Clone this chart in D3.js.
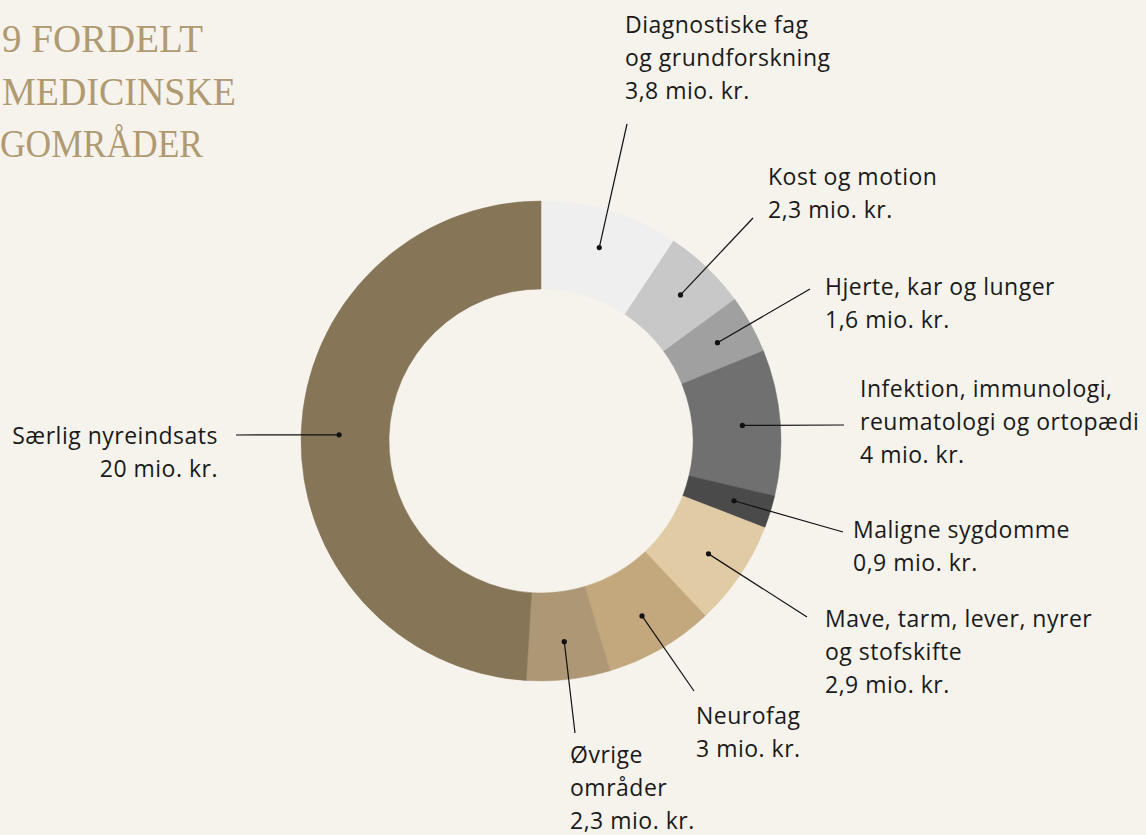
<!DOCTYPE html>
<html lang="da">
<head>
  <meta charset="UTF-8">
  <title>Fordeling på medicinske områder</title>
  <style>
    html, body {
      margin: 0;
      padding: 0;
      background: #f6f3ec;
      overflow: hidden;
    }
    .title {
      font-family: "Liberation Serif", "DejaVu Serif", serif;
      font-size: 41px;
      fill: #b09a72;
    }
    .label {
      font-family: "Open Sans", Lato, sans-serif;
      font-size: 23px;
      fill: #1a1a1a;
      letter-spacing: 0.5px;
    }
    .leader {
      stroke: #111;
      stroke-width: 1.2;
      fill: none;
    }
  </style>
</head>
<body>
  <script src="https://d3js.org/d3.v7.min.js"></script>
  <script>
    // data, clockwise from 12 o'clock
    const categories = [
      'Diagnostiske fag og grundforskning',
      'Kost og motion',
      'Hjerte, kar og lunger',
      'Infektion, immunologi, reumatologi og ortopædi',
      'Maligne sygdomme',
      'Mave, tarm, lever, nyrer og stofskifte',
      'Neurofag',
      'Øvrige områder',
      'Særlig nyreindsats'
    ];
    const values = [3.8, 2.3, 1.6, 4, 0.9, 2.9, 3, 2.3, 20];
    const valueLabels = ['3,8 mio. kr.', '2,3 mio. kr.', '1,6 mio. kr.', '4 mio. kr.', '0,9 mio. kr.',
                         '2,9 mio. kr.', '3 mio. kr.', '2,3 mio. kr.', '20 mio. kr.'];
    // how the label text wraps
    const labelLines = [
      ['Diagnostiske fag', 'og grundforskning'],
      ['Kost og motion'],
      ['Hjerte, kar og lunger'],
      ['Infektion, immunologi,', 'reumatologi og ortopædi'],
      ['Maligne sygdomme'],
      ['Mave, tarm, lever, nyrer', 'og stofskifte'],
      ['Neurofag'],
      ['Øvrige', 'områder'],
      ['Særlig nyreindsats']
    ];
    const colors = ['#efefef', '#c8c8c8', '#a0a0a0', '#707070', '#4a4a4a',
                    '#e0cba4', '#c3a77d', '#ae9774', '#877558'];
    const titleLines = ['9 FORDELT', 'MEDICINSKE', 'GOMRÅDER'];

    // label layout: end of leader line (lx,ly), text start (tx,ty first baseline), anchor
    const labelLayout = [
      {lx: 627, ly: 124, tx: 625, ty: 33, anchor: 'start'},
      {lx: 753, ly: 218, tx: 768, ty: 185, anchor: 'start'},
      {lx: 810, ly: 289, tx: 825, ty: 295, anchor: 'start'},
      {lx: 844, ly: 425, tx: 860, ty: 397, anchor: 'start'},
      {lx: 843, ly: 532, tx: 853, ty: 538, anchor: 'start'},
      {lx: 807, ly: 617, tx: 825, ty: 627, anchor: 'start'},
      {lx: 694, ly: 691, tx: 696, ty: 724, anchor: 'start'},
      {lx: 575, ly: 733, tx: 570, ty: 763, anchor: 'start'},
      {lx: 236, ly: 435, tx: 218, ty: 444, anchor: 'end'}
    ];

    const WIDTH = 1146;
    const HEIGHT = 835;
    const cx = 541, cy = 441;
    const outerR = 240, innerR = 152, dotR = 202;
    const lineH = 33;

    const svg = d3.select('body').append('svg')
      .attr('width', WIDTH)
      .attr('height', HEIGHT)
      .attr('viewBox', `0 0 ${WIDTH} ${HEIGHT}`);

    // title, squeezed to the widths of the original typeface
    const titleX = [2, 2, 0];
    const titleW = [201, 234, 203];
    svg.append('g').selectAll('text')
      .data(titleLines)
      .join('text')
        .attr('class', 'title')
        .attr('x', (d, i) => titleX[i])
        .attr('y', (d, i) => 52 + i * 52.5)
        .attr('textLength', (d, i) => titleW[i])
        .attr('lengthAdjust', 'spacingAndGlyphs')
        .text(d => d);

    const data = categories.map((c, i) => ({name: c, value: values[i], i}));

    const pie = d3.pie().sort(null).value(d => d.value);
    const arc = d3.arc().innerRadius(innerR).outerRadius(outerR);
    const dotArc = d3.arc().innerRadius(dotR).outerRadius(dotR);

    const chart = svg.append('g').attr('transform', `translate(${cx},${cy})`);
    const arcs = pie(data);

    chart.selectAll('path')
      .data(arcs)
      .join('path')
        .attr('d', arc)
        .attr('fill', d => colors[d.data.i])
        .attr('stroke', d => colors[d.data.i])
        .attr('stroke-width', 0.5);

    // leader lines + dots
    const leaders = svg.append('g');
    arcs.forEach(d => {
      const [px, py] = dotArc.centroid(d);
      const L = labelLayout[d.data.i];
      leaders.append('line')
        .attr('class', 'leader')
        .attr('x1', cx + px).attr('y1', cy + py)
        .attr('x2', L.lx).attr('y2', L.ly);
      leaders.append('circle')
        .attr('cx', cx + px).attr('cy', cy + py)
        .attr('r', 2.6)
        .attr('fill', '#111');
    });

    // labels
    const labels = svg.append('g');
    data.forEach(d => {
      const L = labelLayout[d.i];
      const t = labels.append('text')
        .attr('class', 'label')
        .attr('text-anchor', L.anchor);
      const lines = labelLines[d.i].concat([valueLabels[d.i]]);
      lines.forEach((s, k) => {
        t.append('tspan')
          .attr('x', L.tx)
          .attr('y', L.ty + k * lineH)
          .text(s);
      });
    });
  </script>
</body>
</html>
